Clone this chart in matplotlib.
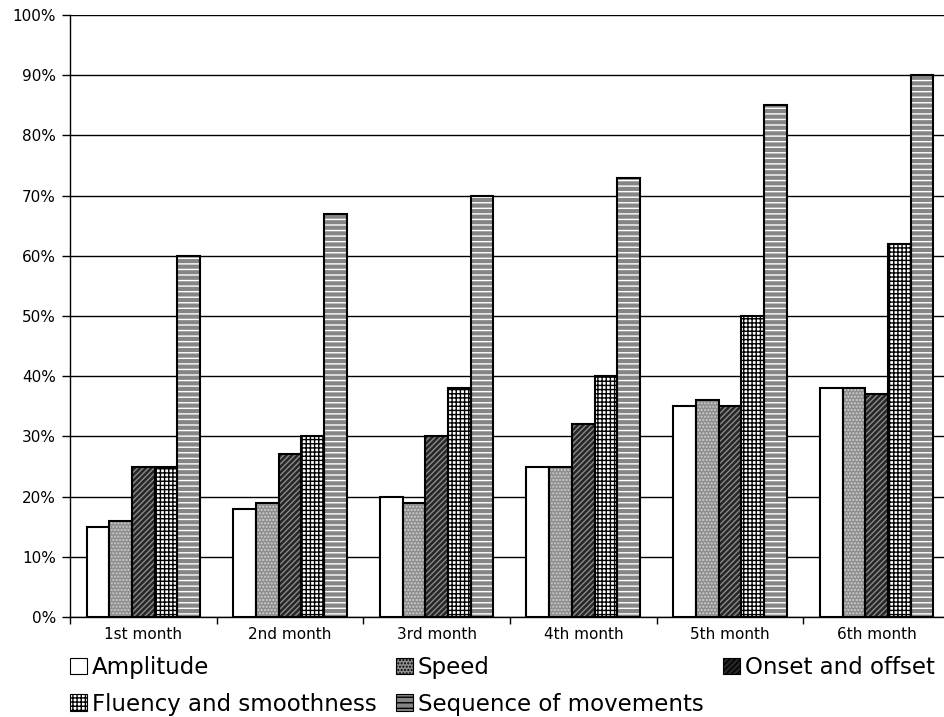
import matplotlib
matplotlib.use('Agg')
import matplotlib.pyplot as plt
import numpy as np
from matplotlib.patches import Patch
from matplotlib.ticker import PercentFormatter

months = ['1st month', '2nd month', '3rd month', '4th month', '5th month', '6th month']
amplitude = [15, 18, 20, 25, 35, 38]
speed = [16, 19, 19, 25, 36, 38]
onset = [25, 27, 30, 32, 35, 37]
fluency = [25, 30, 38, 40, 50, 62]
sequence = [60, 67, 70, 73, 85, 90]

series = [amplitude, speed, onset, fluency, sequence]
names = ['Amplitude', 'Speed', 'Onset and offset', 'Fluency and smoothness', 'Sequence of movements']
# (fill, hatch, hatch colour)
styles = [('white', None, None),
          ('#8e8e8e', '.....', '#cfcfcf'),
          ('#262626', '//////', '#8a8a8a'),
          ('white', '++++', 'black'),
          ('#858585', '---', 'white')]

plt.rcParams['font.family'] = 'DejaVu Sans'
plt.rcParams['hatch.linewidth'] = 1.0
fig = plt.figure(figsize=(9.44, 7.17), dpi=100)
# axes runs a little past the right edge of the figure, like the original
ax = fig.add_axes([70/944, 1-617/717, 880/944, 602/717])

x = np.arange(len(months))
w = 0.155
for i, (vals, (fc, hatch, hc)) in enumerate(zip(series, styles)):
    pos = x + (i - 2) * w
    ax.bar(pos, vals, w, color=fc, edgecolor='none', linewidth=0, zorder=3)
    if hatch:
        ax.bar(pos, vals, w, color='none', edgecolor=hc, hatch=hatch, linewidth=0, zorder=4)
    ax.bar(pos, vals, w, color='none', edgecolor='black', linewidth=1.5, zorder=5)

ax.set_xlim(-0.5, len(months) - 0.5)
ax.set_ylim(0, 100)
ax.set_yticks(np.arange(0, 101, 10))
ax.yaxis.set_major_formatter(PercentFormatter(decimals=0))
ax.yaxis.grid(True, color='black', linewidth=1.0, zorder=0)
ax.set_axisbelow(True)
ax.set_xticks(x)
ax.set_xticklabels(months)
ax.set_xticks(np.arange(-0.5, len(months)), minor=True)
ax.tick_params(axis='x', which='major', length=0, labelsize=11, pad=7)
ax.tick_params(axis='x', which='minor', length=5, width=1, direction='out')
ax.tick_params(axis='y', length=6, width=1, direction='out', labelsize=11, pad=4)
for s in ['top', 'right']:
    ax.spines[s].set_visible(False)
ax.spines['left'].set_linewidth(1)
ax.spines['bottom'].set_linewidth(1)

handles = []
for fc, hatch, hc in styles:
    handles.append(Patch(facecolor=fc, edgecolor='black', hatch=hatch, linewidth=0.8))
order = [0, 3, 1, 4, 2]
fig.legend([handles[k] for k in order], [names[k] for k in order], ncol=3,
           loc='upper left', bbox_to_anchor=(70/944, 1-656/717), frameon=False,
           fontsize=16.5, handlelength=0.75, handleheight=0.75, handletextpad=0.2,
           columnspacing=0.85, labelspacing=0.6, borderpad=0, borderaxespad=0)

fig.savefig('out.png', dpi=100)
